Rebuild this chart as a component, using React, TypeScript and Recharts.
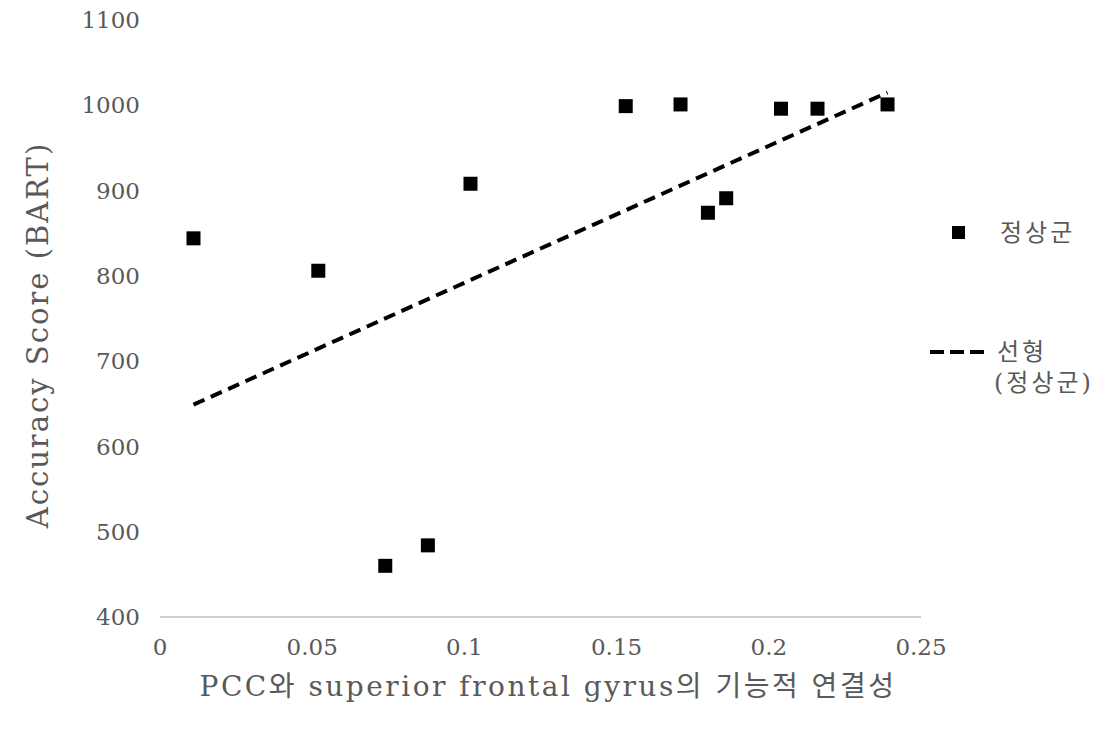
import { ScatterChart, Scatter, XAxis, YAxis } from 'recharts';

const xValues = [0.011, 0.052, 0.074, 0.088, 0.102, 0.153, 0.171, 0.18, 0.186, 0.204, 0.216, 0.239];
const yValues = [844, 806, 460, 484, 908, 999, 1001, 874, 891, 996, 996, 1001];

// 선형 추세선 양 끝점
const trendX = [0.011, 0.239];
const trendY = [649, 1015];

const xTicks = [0, 0.05, 0.1, 0.15, 0.2, 0.25];
const yTicks = [400, 500, 600, 700, 800, 900, 1000, 1100];

const points = xValues.map((x, i) => ({ x, y: yValues[i] }));
const trend = trendX.map((x, i) => ({ x, y: trendY[i] }));

const FONT = '"DejaVu Serif", "Noto Sans CJK KR", serif';
const GRAY = '#595959';

// 범례 (오른쪽)
const LegendBox = () => (
  <g transform="translate(920, 210)">
    <rect x={32} y={16} width={13} height={13} fill="#000" />
    <text x={80} y={23} fill={GRAY} fontSize={24} letterSpacing={3} fontFamily={FONT} dominantBaseline="central">
      정상군
    </text>
    <line x1={10} y1={142} x2={65} y2={142} stroke="#000" strokeWidth={4} strokeDasharray="14 6" />
    <text x={77} y={142} fill={GRAY} fontSize={24} letterSpacing={3} fontFamily={FONT} dominantBaseline="central">
      선형
    </text>
    <text x={74} y={173} fill={GRAY} fontSize={24} letterSpacing={3} fontFamily={FONT} dominantBaseline="central">
      (정상군)
    </text>
  </g>
);

const SquareDot = (p: any) => (
  <rect x={p.cx - 7} y={p.cy - 7} width={14} height={14} fill="#000" />
);

export default function App() {
  return (
    <div style={{ position: 'absolute', left: 0, top: 0, background: '#fff' }}>
      <ScatterChart
        width={1105}
        height={734}
        margin={{ top: 20, right: 184, left: 0, bottom: 0 }}
      >
        <XAxis
          type="number"
          dataKey="x"
          domain={[0, 0.25]}
          ticks={xTicks}
          axisLine={{ stroke: '#bfbfbf', strokeWidth: 1.5 }}
          tickLine={false}
          tickMargin={16}
          height={117}
          tick={{ fill: GRAY, fontSize: 23, fontFamily: FONT }}
          label={{
            content: () => (
              <g>
                <text x={548} y={686} textAnchor="middle" dominantBaseline="central" fill={GRAY} fontSize={28} letterSpacing={2.5} fontFamily={FONT}>
                  PCC와 superior frontal gyrus의 기능적 연결성
                </text>
                <LegendBox />
              </g>
            ),
          }}
        />
        <YAxis
          type="number"
          dataKey="y"
          domain={[400, 1100]}
          ticks={yTicks}
          axisLine={false}
          tickLine={false}
          tickSize={6}
          tickMargin={14}
          width={160}
          tick={{ fill: GRAY, fontSize: 23, fontFamily: FONT }}
          label={{
            content: () => (
              <text
                x={38}
                y={335}
                transform="rotate(-90 38 335)"
                textAnchor="middle"
                dominantBaseline="central"
                fill={GRAY}
                fontSize={29}
                letterSpacing={2}
                fontFamily={FONT}
              >
                Accuracy Score (BART)
              </text>
            ),
          }}
        />
        <Scatter
          data={points}
          shape={SquareDot}
          isAnimationActive={false}
        />
        <Scatter
          data={trend}
          line={{ stroke: '#000', strokeWidth: 4, strokeDasharray: '12 7' }}
          shape={() => <g />}
          isAnimationActive={false}
        />
      </ScatterChart>
    </div>
  );
}
